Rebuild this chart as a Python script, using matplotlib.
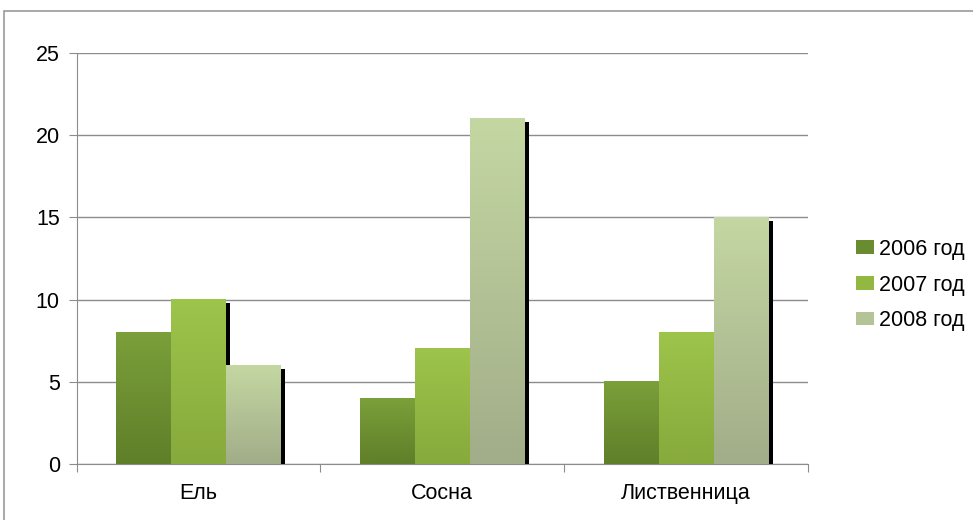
import numpy as np
import matplotlib
matplotlib.use('Agg')
import matplotlib.pyplot as plt
from matplotlib.patches import Rectangle, Patch

plt.rcParams['font.family'] = ['Liberation Sans', 'DejaVu Sans']

categories = ['Ель', 'Сосна', 'Лиственница']
series = ['2006 год', '2007 год', '2008 год']
v2006 = [8, 4, 5]
v2007 = [10, 7, 8]
v2008 = [6, 21, 15]
values = [v2006, v2007, v2008]

# top colour, bottom colour for each series
top_cols = ['#7b9f3a', '#9dc44b', '#c4d7a2']
bot_cols = ['#5f7f29', '#87aa3c', '#a2ad89']
legend_cols = ['#6a8c30', '#92b842', '#b5c496']

fig = plt.figure(figsize=(9.73, 5.2), dpi=100)
fig.patches.append(Rectangle((4 / 973, -0.1), 1.2, (520 - 11) / 520 + 0.1,
                             transform=fig.transFigure, fill=False,
                             edgecolor='#9a9a9a', linewidth=1.2))
ax = fig.add_axes([76.5 / 973, 56 / 520, (808 - 76.5) / 973, (464 - 53) / 520])

n = len(categories)
bw = 0.225
sh_w = 0.017
sh_drop = 0.21


def grad(c1, c2):
    a = np.array(matplotlib.colors.to_rgb(c1))
    b = np.array(matplotlib.colors.to_rgb(c2))
    t = np.linspace(0, 1, 64)[:, None]
    return (a * (1 - t) + b * t)[:, None, :]


for s in range(len(series)):
    for i in range(n):
        h = values[s][i]
        x0 = i - 1.5 * bw + s * bw
        # shadow on the right
        ax.add_patch(Rectangle((x0 + bw, 0), sh_w, h - sh_drop, facecolor='black',
                               edgecolor='none', zorder=2 + s * 2))
        ax.imshow(grad(top_cols[s], bot_cols[s]), extent=(x0, x0 + bw, 0, h),
                  aspect='auto', zorder=3 + s * 2, interpolation='bilinear')

ax.set_xlim(-0.5, n - 0.5)
ax.set_ylim(0, 25)
ax.set_yticks([0, 5, 10, 15, 20, 25])
ax.yaxis.grid(True, color='#8c8c8c', linewidth=1)
ax.set_axisbelow(True)
for sp in ['top', 'right']:
    ax.spines[sp].set_visible(False)
ax.spines['left'].set_color('#8c8c8c')
ax.spines['bottom'].set_color('#8c8c8c')
ax.tick_params(axis='y', length=6, color='#8c8c8c', pad=6, labelsize=15.5)

ax.set_xticks(np.arange(n + 1) - 0.5)
ax.set_xticklabels([])
ax.tick_params(axis='x', which='major', length=6, color='#8c8c8c')
ax.set_xticks(np.arange(n), minor=True)
ax.set_xticklabels(categories, minor=True)
ax.tick_params(axis='x', which='minor', length=0, pad=14, labelsize=15.5)

handles = [Patch(facecolor=c, edgecolor='none') for c in legend_cols]
fig.legend(handles, series, loc='center left', bbox_to_anchor=(837 / 973, (520 - 285) / 520),
           frameon=False, fontsize=15.5, handlelength=0.8, handleheight=0.6,
           handletextpad=0.25, labelspacing=0.68)

fig.savefig('out.png', dpi=100)
